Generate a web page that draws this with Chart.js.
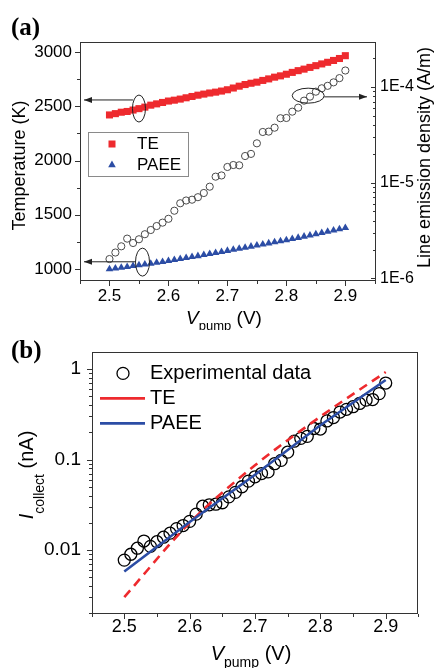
<!DOCTYPE html>
<html>
<head>
<meta charset="utf-8">
<title>Temperature, line emission density and collected current versus V_pump</title>
<script src="https://cdn.jsdelivr.net/npm/chart.js@4.4.1/dist/chart.umd.min.js"></script>
<style>
  html, body { margin:0; padding:0; background:#ffffff; }
  #page { position:relative; width:434px; height:668px; overflow:hidden; background:#ffffff; }
  #page canvas { position:absolute; left:0; display:block; }
</style>
</head>
<body>
<div id="page">
  <canvas id="chartA" width="434" height="330" style="top:0px"></canvas>
  <canvas id="chartB" width="434" height="338" style="top:330px"></canvas>
</div>
<script>
// ---------------- data ----------------
const vPump = [2.50,2.51,2.52,2.53,2.54,2.55,2.56,2.57,2.58,2.59,
               2.60,2.61,2.62,2.63,2.64,2.65,2.66,2.67,2.68,2.69,
               2.70,2.71,2.72,2.73,2.74,2.75,2.76,2.77,2.78,2.79,
               2.80,2.81,2.82,2.83,2.84,2.85,2.86,2.87,2.88,2.89,2.90];

// panel (a), left axis: temperature (K)
const tempTE = [2420,2432,2445,2452,2465,2478,2492,2510,2522,2535,
                2548,2556,2566,2578,2590,2602,2612,2622,2630,2640,
                2652,2668,2685,2700,2712,2722,2738,2752,2768,2780,
                2795,2812,2828,2842,2858,2874,2890,2905,2922,2940,2966];
const tempPAEE = [1000,1007,1014,1021,1029,1036,1044,1051,1059,1067,
                  1076,1085,1094,1103,1112,1121,1131,1140,1150,1159,
                  1169,1179,1188,1198,1208,1218,1228,1238,1248,1257,
                  1267,1278,1289,1300,1311,1322,1334,1345,1357,1368,1380];
// panel (a), right axis: line emission density (A/m)
const lineEmission = [1.59e-6,1.86e-6,2.16e-6,2.60e-6,2.34e-6,2.56e-6,2.89e-6,3.20e-6,3.52e-6,3.82e-6,
                      4.19e-6,5.09e-6,6.09e-6,6.51e-6,6.64e-6,7.05e-6,7.80e-6,9.08e-6,1.156e-5,1.19e-5,
                      1.46e-5,1.53e-5,1.52e-5,1.90e-5,2.00e-5,2.58e-5,3.39e-5,3.42e-5,3.76e-5,4.72e-5,
                      4.75e-5,5.53e-5,6.09e-5,7.21e-5,7.94e-5,8.95e-5,9.71e-5,1.03e-4,1.12e-4,1.24e-4,1.49e-4];

// panel (b): collected current (nA)
const currentExp = [0.00776,0.00901,0.0105,0.0126,0.0110,0.0124,0.0139,0.0154,0.0173,0.0187,
                    0.0208,0.0250,0.0306,0.0317,0.0322,0.0334,0.0388,0.0435,0.0502,0.0579,
                    0.0646,0.0702,0.0732,0.0902,0.0982,0.121,0.160,0.172,0.181,0.221,
                    0.218,0.268,0.292,0.336,0.360,0.385,0.418,0.455,0.462,0.537,0.703];
const fitVoltage  = [2.50,2.60,2.70,2.80,2.90];
const currentTE   = [0.00303,0.0200,0.0866,0.299,0.93];
const currentPAEE = [0.0058,0.0205,0.068,0.24,0.76];

// ticks
const voltageTicks = [2.5,2.6,2.7,2.8,2.9];
const voltageTickLabels = ['2.5','2.6','2.7','2.8','2.9'];
const voltageMinorTicks = [2.45,2.55,2.65,2.75,2.85,2.95];
const tempTicks = [1000,1500,2000,2500,3000];
const tempTickLabels = ['1000','1500','2000','2500','3000'];
const tempMinorTicks = [1250,1750,2250,2750];
const emissionTicks = [1e-6,1e-5,1e-4];
const emissionTickLabels = ['1E-6','1E-5','1E-4'];
const emissionMinorTicks = [2e-6,3e-6,4e-6,5e-6,6e-6,7e-6,8e-6,9e-6,
                            2e-5,3e-5,4e-5,5e-5,6e-5,7e-5,8e-5,9e-5,2e-4];
const currentTicks = [0.01,0.1,1];
const currentTickLabels = ['0.01','0.1','1'];
const currentMinorTicks = [0.002,0.003,0.004,0.005,0.006,0.007,0.008,0.009,
                           0.02,0.03,0.04,0.05,0.06,0.07,0.08,0.09,
                           0.2,0.3,0.4,0.5,0.6,0.7,0.8,0.9];

// series names
const namesA = ['TE','PAEE'];
const namesB = ['Experimental data','TE','PAEE'];

// annotation anchors (data units): ellipse centres and arrow levels
const markTE   = [2.550, 2479, 2558];     // x, y(K), arrow y(K)
const markPAEE = [2.556, 1064, 1067];
const markEmis = [2.837, 8.13e-5, 7.9e-5];

// ---------------- style ----------------
const SANS = "'Liberation Sans', Arial, Helvetica, sans-serif";
const SERIF = "'Liberation Serif', 'Times New Roman', serif";
const RED = '#ee2a2e';
const BLUE = '#2c4da5';
const FRAME = '#333333';

function xy(xs, ys) { return xs.map((x, i) => ({ x: x, y: ys[i] })); }
function setTicks(values) { return (axis) => { axis.ticks = values.map(v => ({ value: v })); }; }

function tickMarks(chart, id, values, len, side) {
  const s = chart.scales[id], a = chart.chartArea, ctx = chart.ctx;
  ctx.beginPath();
  values.forEach(v => {
    const p = Math.round(s.getPixelForValue(v)) + 0.5;
    if (side === 'bottom') { ctx.moveTo(p, a.bottom); ctx.lineTo(p, a.bottom + len); }
    else if (side === 'left') { ctx.moveTo(a.left, p); ctx.lineTo(a.left - len, p); }
    else if (side === 'rightIn') { ctx.moveTo(a.right, p); ctx.lineTo(a.right - len, p); }
  });
  ctx.stroke();
}
function frame(chart) {
  const a = chart.chartArea, ctx = chart.ctx;
  ctx.save();
  ctx.strokeStyle = FRAME; ctx.lineWidth = 1;
  ctx.strokeRect(Math.round(a.left) + 0.5, Math.round(a.top) + 0.5,
                 Math.round(a.right - a.left) - 1, Math.round(a.bottom - a.top) - 1);
  ctx.restore();
}
function richText(ctx, parts, cx, cy, rotate) {
  ctx.save();
  ctx.translate(cx, cy);
  if (rotate) ctx.rotate(-Math.PI / 2);
  ctx.fillStyle = '#000'; ctx.textAlign = 'left'; ctx.textBaseline = 'alphabetic';
  let total = 0;
  parts.forEach(p => { ctx.font = p.font; p.w = ctx.measureText(p.t).width; total += p.w; });
  let x = -total / 2;
  parts.forEach(p => { ctx.font = p.font; ctx.fillText(p.t, x, p.dy || 0); x += p.w; });
  ctx.restore();
}
function arrowH(ctx, x1, y, x2) {
  ctx.beginPath(); ctx.moveTo(x1, y); ctx.lineTo(x2, y); ctx.stroke();
  const d = Math.sign(x2 - x1);
  ctx.beginPath(); ctx.moveTo(x2, y); ctx.lineTo(x2 - d * 8, y - 3); ctx.lineTo(x2 - d * 8, y + 3);
  ctx.closePath(); ctx.fill();
}
function ellipse(ctx, cx, cy, rx, ry) {
  ctx.beginPath(); ctx.ellipse(cx, cy, rx, ry, 0, 0, Math.PI * 2); ctx.stroke();
}

// ---------------- panel (a) ----------------
const decorA = {
  id: 'decorA',
  afterDraw(chart) {
    const ctx = chart.ctx, a = chart.chartArea, sx = chart.scales.x, sy = chart.scales.y, sy2 = chart.scales.y2;
    frame(chart);
    ctx.save();
    ctx.strokeStyle = FRAME; ctx.lineWidth = 1;
    tickMarks(chart, 'x', voltageTicks, 5, 'bottom');
    tickMarks(chart, 'x', voltageMinorTicks, 3, 'bottom');
    tickMarks(chart, 'y', tempTicks, 5, 'left');
    tickMarks(chart, 'y', tempMinorTicks, 3, 'left');
    tickMarks(chart, 'y2', emissionTicks, 5, 'rightIn');
    tickMarks(chart, 'y2', emissionMinorTicks, 3, 'rightIn');

    // annotations
    ctx.strokeStyle = '#222'; ctx.fillStyle = '#222'; ctx.lineWidth = 1;
    let cx = sx.getPixelForValue(markTE[0]), cy = sy.getPixelForValue(markTE[1]);
    ellipse(ctx, cx, cy, 6.5, 13.5);
    arrowH(ctx, cx - 6, sy.getPixelForValue(markTE[2]), a.left + 4);
    cx = sx.getPixelForValue(markPAEE[0]); cy = sy.getPixelForValue(markPAEE[1]);
    ellipse(ctx, cx, cy, 7, 14);
    arrowH(ctx, cx - 7, sy.getPixelForValue(markPAEE[2]), a.left + 4);
    cx = sx.getPixelForValue(markEmis[0]); cy = sy2.getPixelForValue(markEmis[1]);
    ellipse(ctx, cx, cy, 16, 7.5);
    arrowH(ctx, cx + 16, sy2.getPixelForValue(markEmis[2]), a.right - 9);

    // legend box
    const lx = a.left + 8, ly = a.top + 90;
    ctx.fillStyle = '#fff'; ctx.fillRect(lx, ly, 100, 44);
    ctx.strokeStyle = '#8a8a8a'; ctx.strokeRect(lx + 0.5, ly + 0.5, 100, 44);
    ctx.fillStyle = RED; ctx.fillRect(lx + 20.5, ly + 8.5, 7, 7);
    ctx.fillStyle = BLUE;
    const tx = lx + 24, ty = ly + 33;
    ctx.beginPath(); ctx.moveTo(tx, ty - 4.4); ctx.lineTo(tx + 3.8, ty + 2.2); ctx.lineTo(tx - 3.8, ty + 2.2);
    ctx.closePath(); ctx.fill();
    ctx.fillStyle = '#000'; ctx.font = '17px ' + SANS; ctx.textBaseline = 'middle'; ctx.textAlign = 'left';
    ctx.fillText(namesA[0], lx + 49, ly + 12.5);
    ctx.fillText(namesA[1], lx + 49, ly + 33.5);
    ctx.restore();

    // titles
    richText(ctx, [{ t: 'Temperature (K)', font: '18px ' + SANS }], 25, (a.top + a.bottom) / 2 + 4, true);
    richText(ctx, [{ t: 'Line emission density (A/m)', font: '18px ' + SANS }], 430, (a.top + a.bottom) / 2 - 4, true);
    richText(ctx, [
      { t: 'V', font: 'italic 19px ' + SANS },
      { t: 'pump', font: '13px ' + SANS, dy: 6 },
      { t: ' (V)', font: '19px ' + SANS }
    ], (a.left + a.right) / 2 - 4, 324, false);
    ctx.save();
    ctx.fillStyle = '#000'; ctx.font = 'bold 25px ' + SERIF; ctx.textAlign = 'left'; ctx.textBaseline = 'alphabetic';
    ctx.fillText('(a)', 11, 35);
    ctx.restore();
  }
};

new Chart(document.getElementById('chartA'), {
  type: 'scatter',
  data: {
    datasets: [
      { label: 'Line emission density', data: xy(vPump, lineEmission), yAxisID: 'y2',
        pointStyle: 'circle', pointRadius: 3.6, borderColor: '#4a4a4a', borderWidth: 1,
        backgroundColor: 'rgba(255,255,255,0)' },
      { label: namesA[1], data: xy(vPump, tempPAEE), yAxisID: 'y',
        pointStyle: 'triangle', pointRadius: 4.4, backgroundColor: BLUE, borderColor: BLUE, borderWidth: 0 },
      { label: namesA[0], data: xy(vPump, tempTE), yAxisID: 'y',
        pointStyle: 'rect', pointRadius: 5, backgroundColor: RED, borderColor: RED, borderWidth: 0 }
    ]
  },
  options: {
    responsive: false, animation: false, devicePixelRatio: 1,
    layout: { padding: { top: 42, left: 0, right: 0, bottom: 0 } },
    plugins: { legend: { display: false }, tooltip: { enabled: false } },
    elements: { point: { hoverRadius: 0 } },
    scales: {
      x: {
        type: 'linear', position: 'bottom', min: 2.45, max: 2.952,
        grid: { display: false, drawTicks: false }, border: { display: false },
        afterBuildTicks: setTicks(voltageTicks),
        ticks: { callback: (v, i) => voltageTickLabels[i], color: '#000', font: { family: SANS, size: 17 },
                 padding: 5, maxRotation: 0, autoSkip: false },
        afterFit: (s) => { s.height = 49; }
      },
      y: {
        type: 'linear', position: 'left', min: 890, max: 3092,
        grid: { display: false, drawTicks: false }, border: { display: false },
        afterBuildTicks: setTicks(tempTicks),
        ticks: { callback: (v, i) => tempTickLabels[i], color: '#000', font: { family: SANS, size: 17 },
                 padding: 8, autoSkip: false },
        afterFit: (s) => { s.width = 80; }
      },
      y2: {
        type: 'logarithmic', position: 'right', min: 9.37e-7, max: 2.96e-4,
        grid: { display: false, drawTicks: false }, border: { display: false },
        afterBuildTicks: setTicks(emissionTicks),
        ticks: { callback: (v, i) => emissionTickLabels[i], color: '#000', font: { family: SANS, size: 16 },
                 padding: 4, autoSkip: false },
        afterFit: (s) => { s.width = 58; }
      }
    }
  },
  plugins: [decorA]
});

// ---------------- panel (b) ----------------
const decorB = {
  id: 'decorB',
  afterDraw(chart) {
    const ctx = chart.ctx, a = chart.chartArea;
    frame(chart);
    ctx.save();
    ctx.strokeStyle = FRAME; ctx.lineWidth = 1;
    tickMarks(chart, 'x', voltageTicks, 5, 'bottom');
    tickMarks(chart, 'x', voltageMinorTicks, 3, 'bottom');
    tickMarks(chart, 'y', currentTicks, 5, 'left');
    tickMarks(chart, 'y', currentMinorTicks, 3, 'left');

    // legend
    const lx = a.left, ly = a.top;
    ctx.strokeStyle = '#000'; ctx.lineWidth = 1.3;
    ctx.beginPath(); ctx.arc(lx + 31, ly + 21, 6, 0, Math.PI * 2); ctx.stroke();
    ctx.lineWidth = 2.6;
    ctx.strokeStyle = RED; ctx.beginPath(); ctx.moveTo(lx + 8, ly + 46); ctx.lineTo(lx + 53, ly + 46); ctx.stroke();
    ctx.strokeStyle = BLUE; ctx.beginPath(); ctx.moveTo(lx + 8, ly + 71); ctx.lineTo(lx + 53, ly + 71); ctx.stroke();
    ctx.fillStyle = '#000'; ctx.font = '20px ' + SANS; ctx.textBaseline = 'middle'; ctx.textAlign = 'left';
    ctx.fillText(namesB[0], lx + 58, ly + 21);
    ctx.fillText(namesB[1], lx + 58, ly + 46);
    ctx.fillText(namesB[2], lx + 58, ly + 71);
    ctx.restore();

    // titles
    richText(ctx, [
      { t: 'I', font: 'italic 20px ' + SANS },
      { t: 'collect', font: '14px ' + SANS, dy: 11 },
      { t: ' (nA)', font: '20px ' + SANS }
    ], 33, 145, true);
    richText(ctx, [
      { t: 'V', font: 'italic 20px ' + SANS },
      { t: 'pump', font: '14px ' + SANS, dy: 7 },
      { t: ' (V)', font: '20px ' + SANS }
    ], (a.left + a.right) / 2 - 4, 330, false);
    ctx.save();
    ctx.fillStyle = '#000'; ctx.font = 'bold 25px ' + SERIF; ctx.textAlign = 'left'; ctx.textBaseline = 'alphabetic';
    ctx.fillText('(b)', 11, 28);
    ctx.restore();
  }
};

new Chart(document.getElementById('chartB'), {
  type: 'scatter',
  data: {
    datasets: [
      { label: namesB[2], data: xy(fitVoltage, currentPAEE), showLine: true, pointRadius: 0,
        borderColor: BLUE, borderWidth: 2.6, tension: 0, fill: false },
      { label: namesB[1], data: xy(fitVoltage, currentTE), showLine: true, pointRadius: 0,
        borderColor: RED, borderWidth: 2.6, borderDash: [9, 6], cubicInterpolationMode: 'monotone', fill: false },
      { label: namesB[0], data: xy(vPump, currentExp),
        pointStyle: 'circle', pointRadius: 6, borderColor: '#000', borderWidth: 1.3,
        backgroundColor: 'rgba(255,255,255,0)' }
    ]
  },
  options: {
    responsive: false, animation: false, devicePixelRatio: 1,
    layout: { padding: { top: 19, left: 0, right: 16, bottom: 0 } },
    plugins: { legend: { display: false }, tooltip: { enabled: false } },
    elements: { point: { hoverRadius: 0 } },
    scales: {
      x: {
        type: 'linear', position: 'bottom', min: 2.4506, max: 2.9494,
        grid: { display: false, drawTicks: false }, border: { display: false },
        afterBuildTicks: setTicks(voltageTicks),
        ticks: { callback: (v, i) => voltageTickLabels[i], color: '#000', font: { family: SANS, size: 18 },
                 padding: 2, maxRotation: 0, autoSkip: false },
        afterFit: (s) => { s.height = 54; }
      },
      y: {
        type: 'logarithmic', position: 'left', min: 0.001968, max: 1.533,
        grid: { display: false, drawTicks: false }, border: { display: false },
        afterBuildTicks: setTicks(currentTicks),
        ticks: { callback: (v, i) => currentTickLabels[i], color: '#000', font: { family: SANS, size: 19 },
                 padding: 11, autoSkip: false },
        afterFit: (s) => { s.width = 92; }
      }
    }
  },
  plugins: [decorB]
});
</script>
</body>
</html>
